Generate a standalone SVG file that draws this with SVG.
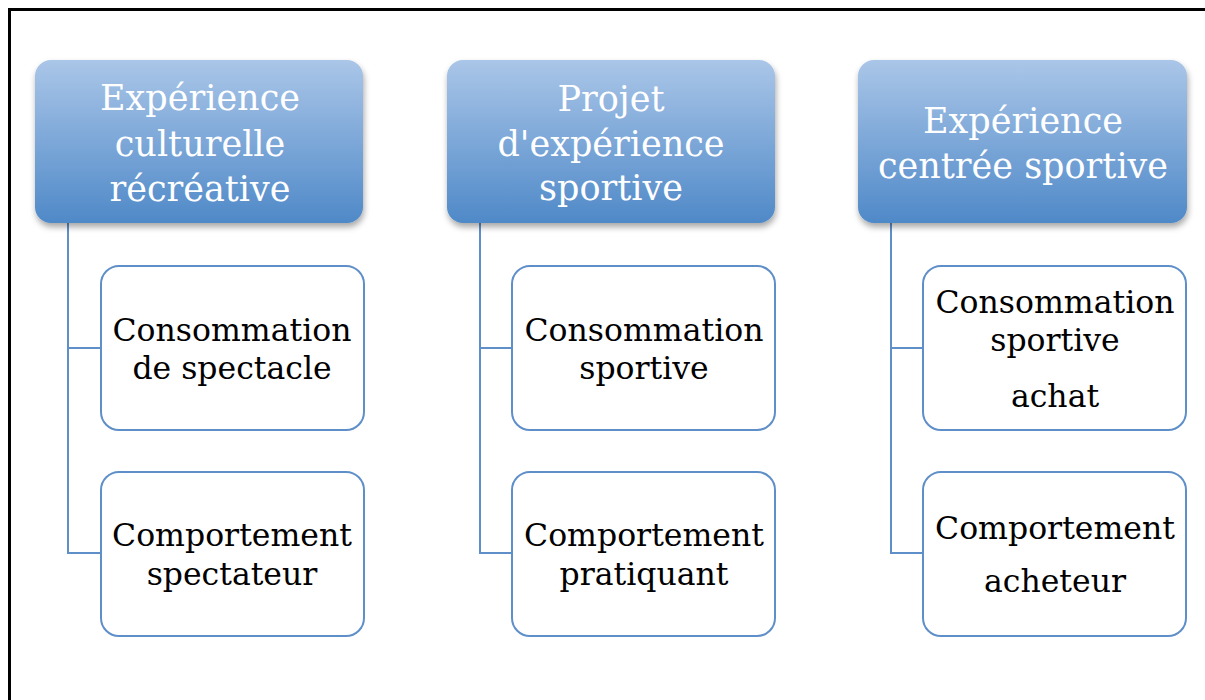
<svg xmlns="http://www.w3.org/2000/svg" width="1205" height="700" viewBox="0 0 1205 700">
  <defs>
    <linearGradient id="pg" x1="0" y1="0" x2="0" y2="1">
      <stop offset="0" stop-color="#aac6e8"/>
      <stop offset="1" stop-color="#4f89c8"/>
    </linearGradient>
    <filter id="sh" x="-10%" y="-10%" width="125%" height="130%">
      <feDropShadow dx="1" dy="4" stdDeviation="3" flood-color="#000" flood-opacity="0.35"/>
    </filter>
    <style>
      .parent rect { fill: url(#pg); filter: url(#sh); }
      .parent text { font-family: "DejaVu Serif", "Liberation Serif", serif; font-size: 35px; fill: #ffffff; text-anchor: middle; }
      .child rect { fill: #ffffff; stroke: #5f8fc9; stroke-width: 2; }
      .child text { font-family: "DejaVu Serif", "Liberation Serif", serif; font-size: 31.5px; fill: #000000; text-anchor: middle; }
      .conn { fill: none; stroke: #5f8fc9; stroke-width: 2; }
    </style>
  </defs>
  <rect width="1205" height="700" fill="#ffffff"/>
  <path d="M9.5,700 V9.5 H1205" fill="none" stroke="#000" stroke-width="3"/>

  <g id="connectors">
    <path class="conn" d="M68,223 V553 H100 M68,348 H100"/>
    <path class="conn" d="M480,223 V553 H512 M480,348 H512"/>
    <path class="conn" d="M891,223 V553 H923 M891,348 H923"/>
  </g>

  <g id="p1" class="parent">
    <rect x="35" y="60" width="328" height="163" rx="16"/>
    <text x="200" y="110">Expérience</text>
    <text x="200" y="156">culturelle</text>
    <text x="200" y="201">récréative</text>
  </g>
  <g id="p2" class="parent">
    <rect x="447" y="60" width="328" height="163" rx="16"/>
    <text x="611" y="111">Projet</text>
    <text x="611" y="156">d'expérience</text>
    <text x="611" y="200">sportive</text>
  </g>
  <g id="p3" class="parent">
    <rect x="858" y="60" width="329" height="163" rx="16"/>
    <text x="1023" y="133">Expérience</text>
    <text x="1023" y="178">centrée sportive</text>
  </g>

  <g id="c1a" class="child">
    <rect x="101" y="266" width="263" height="164" rx="18"/>
    <text x="232" y="341">Consommation</text>
    <text x="232" y="379">de spectacle</text>
  </g>
  <g id="c1b" class="child">
    <rect x="101" y="472" width="263" height="164" rx="18"/>
    <text x="232" y="546">Comportement</text>
    <text x="232" y="585">spectateur</text>
  </g>
  <g id="c2a" class="child">
    <rect x="512" y="266" width="263" height="164" rx="18"/>
    <text x="644" y="341">Consommation</text>
    <text x="644" y="379">sportive</text>
  </g>
  <g id="c2b" class="child">
    <rect x="512" y="472" width="263" height="164" rx="18"/>
    <text x="644" y="546">Comportement</text>
    <text x="644" y="585">pratiquant</text>
  </g>
  <g id="c3a" class="child">
    <rect x="923" y="266" width="263" height="164" rx="18"/>
    <text x="1055" y="313">Consommation</text>
    <text x="1055" y="351">sportive</text>
    <text x="1055" y="407">achat</text>
  </g>
  <g id="c3b" class="child">
    <rect x="923" y="472" width="263" height="164" rx="18"/>
    <text x="1055" y="539">Comportement</text>
    <text x="1055" y="592">acheteur</text>
  </g>
</svg>
